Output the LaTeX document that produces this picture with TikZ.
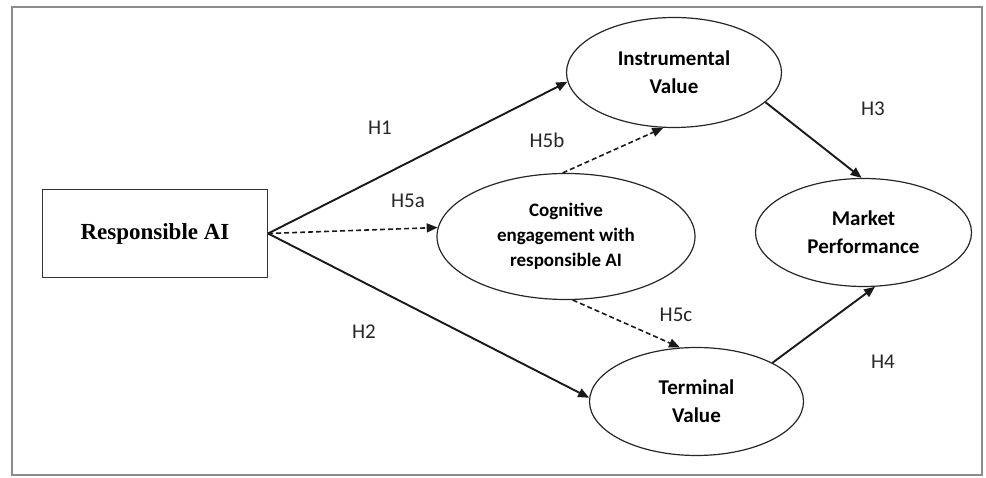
\documentclass[tikz,border=0pt]{standalone}
\usepackage{fontspec}
\setmainfont{Liberation Serif}
\newfontfamily\calibri{Carlito}
\usetikzlibrary{shapes.geometric, arrows.meta}
\tikzset{
    constructbox/.style={rectangle, draw=black!80, line width=1.2pt, minimum width=225pt, minimum height=88pt, font=\fontsize{23}{27}\selectfont\bfseries, align=center},
    latent/.style={ellipse, draw=black!85, line width=1.2pt, align=center, font=\calibri\fontsize{21}{28}\selectfont\bfseries},
    hyplbl/.style={font=\calibri\fontsize{21}{24}\selectfont, text=black!85},
    arrow/.style={-{Triangle[length=11pt, width=9pt]}, line width=1.9pt, black!90},
    dashedarrow/.style={-{Triangle[length=11pt, width=9pt]}, line width=1.6pt, black!90, dash pattern=on 5pt off 3pt},
}

\begin{document}
\begin{tikzpicture}[x=1pt, y=1pt]
\useasboundingbox (0,0) rectangle (986,478);
\draw[black!45, line width=1.2pt] (12,3) rectangle (982,471);

% Constructs
\node[constructbox] (rai) at (155,244.5) {Responsible AI};
\node[latent, minimum width=215pt, minimum height=110pt] (inst) at (674,405.5) {Instrumental\\Value};
\node[latent, minimum width=258pt, minimum height=126pt, font=\calibri\fontsize{19}{25}\selectfont\bfseries] (cog) at (566,241.5) {Cognitive\\engagement with\\responsible AI};
\node[latent, minimum width=216pt, minimum height=108pt] (mkt) at (863.5,245.5) {Market\\Performance};
\node[latent, minimum width=214pt, minimum height=108pt] (term) at (696.5,76.5) {Terminal\\Value};

% Hypothesis labels
\node[hyplbl] (h1) at (380,350) {H1};
\node[hyplbl] (h2) at (364,146) {H2};
\node[hyplbl] (h3) at (873,369) {H3};
\node[hyplbl] (h4) at (883,116) {H4};
\node[hyplbl] (h5a) at (408,277) {H5a};
\node[hyplbl] (h5b) at (547,338) {H5b};
\node[hyplbl] (h5c) at (676,163) {H5c};

% Paths
\draw[arrow] (rai.east) -- (inst.185);
\draw[arrow] (rai.east) -- (term.178);
\draw[dashedarrow] (rai.east) -- (cog.176);
\draw[dashedarrow] (cog.93) -- (inst.259);
\draw[dashedarrow] (cog.276) -- (term.107);
\draw[arrow] (inst.342) -- (mkt.92);
\draw[arrow] (term.27) -- (mkt.282);

\end{tikzpicture}
\end{document}
